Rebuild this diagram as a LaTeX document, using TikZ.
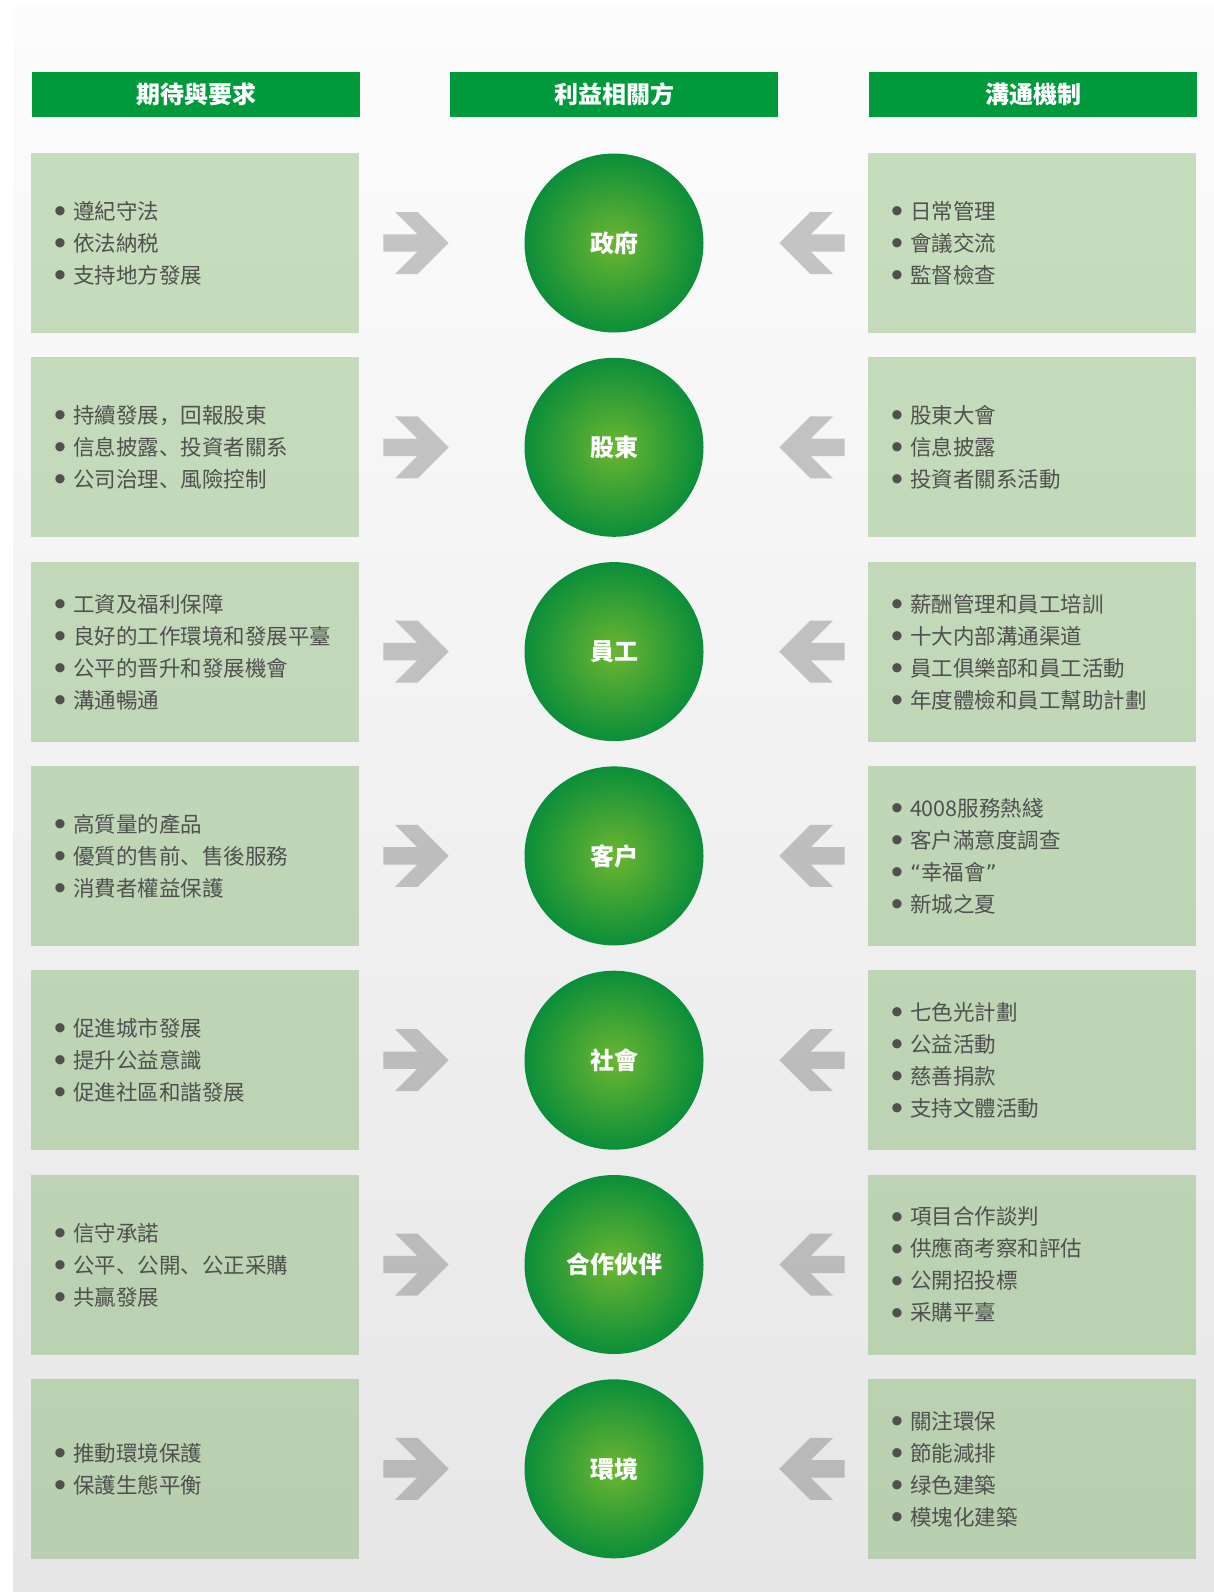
\documentclass[tikz,border=0pt]{standalone}
\usepackage{fontspec}
\setmainfont{Noto Sans CJK SC}
\newfontfamily\dotfont{DejaVu Sans}
\newfontfamily\bulfont{Liberation Sans}
\newcommand{\itm}{\makebox[19pt][l]{\raisebox{-3.2pt}{\fontsize{34}{34}\bulfont •}}}
\newcommand{\openq}{{\dotfont “}}
\newcommand{\closeq}{{\dotfont ”}}

\definecolor{hdgreen}{HTML}{009A3D}
\definecolor{boxgreen}{RGB}{78,154,51}
\definecolor{hubin}{HTML}{6CB631}
\definecolor{hubout}{HTML}{0B8E39}
\definecolor{txtgray}{HTML}{505050}
\definecolor{bgtop}{HTML}{FCFCFC}
\definecolor{bgbot}{HTML}{E6E6E6}

\begin{document}
\begin{tikzpicture}[x=1pt, y=-1pt,
      header/.style={fill=hdgreen, text=white, minimum width=328pt, minimum height=45pt, inner sep=0pt, font=\fontsize{24}{24}\selectfont\bfseries},
      box/.style={fill=boxgreen, fill opacity=0.3, minimum width=328pt, minimum height=180pt, inner sep=0pt},
      list/.style={anchor=west, align=left, inner sep=0pt, text=txtgray, font=\fontsize{21.5}{32}\selectfont},
      hub/.style={circle, minimum size=179pt, inner sep=0pt, inner color=hubin, outer color=hubout, text=white, font=\fontsize{24}{24}\selectfont\bfseries},
      pics/feed/.style={code={% grey block arrow pointing at the hub
            \fill[black!61, fill opacity=0.35] (-230.7,-8.7) -- (-196.7,-8.7) -- (-219,-31) -- (-196.3,-31) -- (-165.3,0)
                  -- (-196.3,31) -- (-219,31) -- (-196.7,8.7) -- (-230.7,8.7) -- cycle;}}]
            \useasboundingbox (0,0) rectangle (1214,1592);
            \fill[white] (0,0) rectangle (1214,1592);
            \shade[top color=bgtop, bottom color=bgbot] (13,7) rectangle (1214,1592); % grey backdrop

            % column heads
            \node[header] (hExp) at (196,94.5) {期待與要求};
            \node[header] (hHub) at (614,94.5) {利益相關方};
            \node[header] (hCom) at (1033,94.5) {溝通機制};

            % government
            \node[hub] (gov) at (614,243) {政府};
            \node[box] (govL) at (195,243) {};
            \node[box] (govR) at (1032,243) {};
                  \node[list] at ([xshift=23pt,yshift=-1pt]govL.west) {\itm 遵紀守法\\ \itm 依法納税\\ \itm 支持地方發展};
                  \node[list] at ([xshift=23pt,yshift=-1pt]govR.west) {\itm 日常管理\\ \itm 會議交流\\ \itm 監督檢查};
            \pic at (gov) {feed};
            \pic[xscale=-1] at (gov) {feed};

            % shareholders
            \node[hub] (share) at (614,447.3) {股東};
            \node[box] (shareL) at (195,447.3) {};
            \node[box] (shareR) at (1032,447.3) {};
                  \node[list] at ([xshift=23pt,yshift=-1pt]shareL.west) {\itm 持續發展，回報股東\\ \itm 信息披露、投資者關系\\ \itm 公司治理、風險控制};
                  \node[list] at ([xshift=23pt,yshift=-1pt]shareR.west) {\itm 股東大會\\ \itm 信息披露\\ \itm 投資者關系活動};
            \pic at (share) {feed};
            \pic[xscale=-1] at (share) {feed};

            % staff
            \node[hub] (staff) at (614,651.6) {員工};
            \node[box] (staffL) at (195,651.6) {};
            \node[box] (staffR) at (1032,651.6) {};
                  \node[list] at ([xshift=23pt,yshift=-1pt]staffL.west) {\itm 工資及福利保障\\ \itm 良好的工作環境和發展平臺\\ \itm 公平的晋升和發展機會\\ \itm 溝通暢通};
                  \node[list] at ([xshift=23pt,yshift=-1pt]staffR.west) {\itm 薪酬管理和員工培訓\\ \itm 十大内部溝通渠道\\ \itm 員工俱樂部和員工活動\\ \itm 年度體檢和員工幫助計劃};
            \pic at (staff) {feed};
            \pic[xscale=-1] at (staff) {feed};

            % clients
            \node[hub] (client) at (614,855.9) {客户};
            \node[box] (clientL) at (195,855.9) {};
            \node[box] (clientR) at (1032,855.9) {};
                  \node[list] at ([xshift=23pt,yshift=-1pt]clientL.west) {\itm 高質量的產品\\ \itm 優質的售前、售後服務\\ \itm 消費者權益保護};
                  \node[list] at ([xshift=23pt,yshift=-1pt]clientR.west) {\itm 4008服務熱綫\\ \itm 客户滿意度調查\\ \itm \openq 幸福會\closeq\\ \itm 新城之夏};
            \pic at (client) {feed};
            \pic[xscale=-1] at (client) {feed};

            % society
            \node[hub] (soc) at (614,1060.2) {社會};
            \node[box] (socL) at (195,1060.2) {};
            \node[box] (socR) at (1032,1060.2) {};
                  \node[list] at ([xshift=23pt,yshift=-1pt]socL.west) {\itm 促進城市發展\\ \itm 提升公益意識\\ \itm 促進社區和諧發展};
                  \node[list] at ([xshift=23pt,yshift=-1pt]socR.west) {\itm 七色光計劃\\ \itm 公益活動\\ \itm 慈善捐款\\ \itm 支持文體活動};
            \pic at (soc) {feed};
            \pic[xscale=-1] at (soc) {feed};

            % partners
            \node[hub] (partner) at (614,1264.5) {合作伙伴};
            \node[box] (partnerL) at (195,1264.5) {};
            \node[box] (partnerR) at (1032,1264.5) {};
                  \node[list] at ([xshift=23pt,yshift=-1pt]partnerL.west) {\itm 信守承諾\\ \itm 公平、公開、公正采購\\ \itm 共贏發展};
                  \node[list] at ([xshift=23pt,yshift=-1pt]partnerR.west) {\itm 項目合作談判\\ \itm 供應商考察和評估\\ \itm 公開招投標\\ \itm 采購平臺};
            \pic at (partner) {feed};
            \pic[xscale=-1] at (partner) {feed};

            % environment
            \node[hub] (env) at (614,1468.8) {環境};
            \node[box] (envL) at (195,1468.8) {};
            \node[box] (envR) at (1032,1468.8) {};
                  \node[list] at ([xshift=23pt,yshift=-1pt]envL.west) {\itm 推動環境保護\\ \itm 保護生態平衡};
                  \node[list] at ([xshift=23pt,yshift=-1pt]envR.west) {\itm 關注環保\\ \itm 節能減排\\ \itm 绿色建築\\ \itm 模塊化建築};
            \pic at (env) {feed};
            \pic[xscale=-1] at (env) {feed};
\end{tikzpicture}
\end{document}
